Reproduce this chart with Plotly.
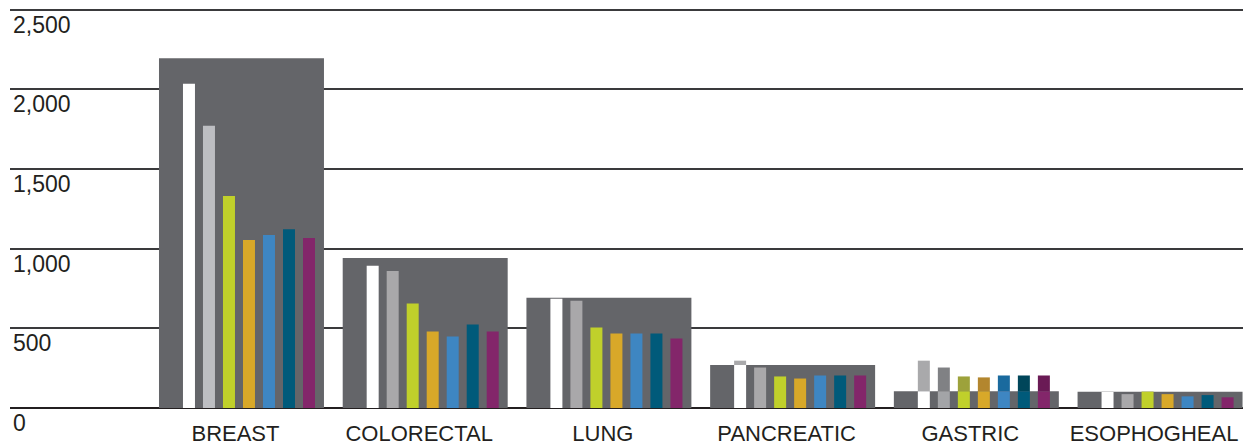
import plotly.graph_objects as go

categories = ["BREAST", "COLORECTAL", "LUNG", "PANCREATIC", "GASTRIC", "ESOPHOGHEAL"]
background_vals = [2195, 941, 692, 270, 105, 102]

series_1 = [2034, 893, 686, 297, 297, 102]
series_2 = [1771, 860, 673, 254, 254, 87]
series_3 = [1330, 655, 505, 198, 198, 102]
series_4 = [1054, 480, 468, 185, 192, 87]
series_5 = [1085, 449, 468, 204, 204, 73]
series_6 = [1122, 524, 468, 204, 204, 81]
series_7 = [1066, 480, 436, 204, 204, 67]

y_ticks = [0, 500, 1000, 1500, 2000, 2500]
y_tick_labels = ["0", "500", "1,000", "1,500", "2,000", "2,500"]

series = [series_1, series_2, series_3, series_4, series_5, series_6, series_7]
bright = ["#FFFFFF",
          ["#BDBEC2", "#A9A8AA", "#A9A8AA", "#A9A8AA", "#A3A4A7", "#A9A8AA"],
          "#C0D02B", "#D8A829", "#3E86C2", "#005A7A", "#83266A"]
dark = ["#A9A9AB", "#808184", "#9DA23B", "#B3862E", "#1A6A9E", "#00465A", "#6A1A55"]

BG_COLOR = "#646569"
BG_WIDTH = 0.898
BAR_W = 0.0653
PITCH = 0.1089
FIRST_OFF = -0.3185
FONT = "Liberation Sans"

fig = go.Figure()

# darker full-height bars (visible only where they exceed the background)
for i, vals in enumerate(series):
    fig.add_trace(go.Bar(x=categories, y=vals, width=BAR_W, offset=FIRST_OFF + i * PITCH,
                         marker=dict(color=dark[i], line=dict(width=0)), showlegend=False,
                         hoverinfo="skip"))

fig.add_trace(go.Bar(x=categories, y=background_vals, width=BG_WIDTH, offset=-BG_WIDTH / 2,
                     marker=dict(color=BG_COLOR, line=dict(width=0)), showlegend=False))

# bright bars clipped at the background height
for i, vals in enumerate(series):
    clipped = [min(v, b) for v, b in zip(vals, background_vals)]
    fig.add_trace(go.Bar(x=categories, y=clipped, width=BAR_W, offset=FIRST_OFF + i * PITCH,
                         marker=dict(color=bright[i], line=dict(width=0)), showlegend=False,
                         customdata=vals, hovertemplate="%{x}: %{customdata}<extra></extra>"))

for v, t in zip(y_ticks, y_tick_labels):
    fig.add_annotation(x=0, xref="paper", y=v, yref="y", text=t, showarrow=False,
                       xanchor="left", yanchor="top", xshift=1, yshift=0,
                       font=dict(family=FONT, size=23, color="#231F20"))

fig.update_layout(
    width=1243, height=438,
    margin=dict(l=2, r=0, t=0, b=34, pad=0),
    barmode="overlay",
    plot_bgcolor="white", paper_bgcolor="white",
    font=dict(family=FONT, size=23, color="#231F20"),
    xaxis=dict(range=[-1.26, 5.495], showgrid=False, showline=False, ticks="",
               tickfont=dict(size=22, color="#231F20"), ticklabelshift=-6,
               ticklabelstandoff=10),
    yaxis=dict(range=[0, 2510], tickvals=y_ticks, showticklabels=False,
               showgrid=True, gridcolor="#3A3A3C", gridwidth=1.6,
               zeroline=True, zerolinecolor="#231F20", zerolinewidth=2.2, fixedrange=True),
)

fig.write_html("out.html")
